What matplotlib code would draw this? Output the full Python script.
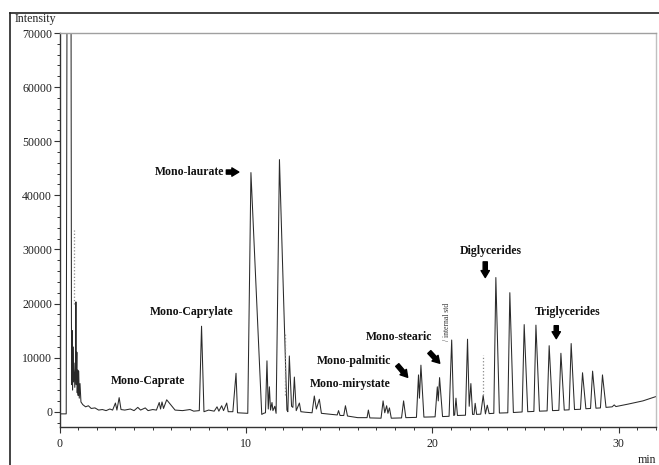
import matplotlib
matplotlib.use('Agg')
import matplotlib.pyplot as plt
from matplotlib.ticker import MultipleLocator
from matplotlib.lines import Line2D

# chromatogram trace: retention time (min) and detector response
time_min = [
    0, 0.36, 0.40, 0.62, 0.64, 0.66, 0.68, 0.70, 0.72, 0.75, 0.78, 0.82, 0.86,
    0.88, 0.90, 0.93, 0.95, 0.98, 1.00, 1.03, 1.06, 1.10, 1.15, 1.25, 1.40,
    1.55, 1.70, 1.90, 2.10, 2.30, 2.50, 2.70, 2.85, 3.00, 3.08, 3.20, 3.30,
    3.50, 3.80, 4.00, 4.20, 4.35, 4.60, 4.75, 5.00, 5.20, 5.35, 5.42, 5.50,
    5.58, 5.75, 6.20, 6.60, 7.00, 7.20, 7.50, 7.62, 7.75, 8.00, 8.30, 8.45,
    8.55, 8.70, 8.80, 8.97, 9.05, 9.30, 9.47, 9.55, 10.10, 10.27, 10.85,
    10.95, 11.05, 11.13, 11.20, 11.26, 11.32, 11.40, 11.45, 11.55, 11.62,
    11.80, 12.20, 12.25, 12.33, 12.45, 12.52, 12.60, 12.70, 12.87, 12.95,
    13.20, 13.55, 13.67, 13.78, 13.94, 14.05, 14.30, 14.60, 14.90, 14.97,
    15.05, 15.25, 15.34, 15.45, 16.00, 16.50, 16.57, 16.65, 17.25, 17.36,
    17.45, 17.55, 17.62, 17.70, 17.80, 18.35, 18.46, 18.58, 19.15, 19.26,
    19.31, 19.39, 19.55, 20.15, 20.27, 20.32, 20.39, 20.55, 20.90, 21.04,
    21.15, 21.20, 21.27, 21.35, 21.78, 21.89, 21.98, 22.07, 22.16, 22.24,
    22.30, 22.38, 22.60, 22.73, 22.85, 22.95, 23.05, 23.30, 23.41, 23.60,
    24.05, 24.16, 24.35, 24.82, 24.93, 25.12, 25.45, 25.56, 25.75, 26.16,
    26.27, 26.45, 26.79, 26.90, 27.08, 27.34, 27.45, 27.63, 27.95, 28.06,
    28.24, 28.49, 28.60, 28.78, 29.02, 29.13, 29.32, 29.65, 29.76, 29.85,
    30.50, 31.30, 32.00,
]
intensity = [
    -400, -400, 72000, 72000, 17000, 5000, 15000, 4000, 12000, 5500, 9000,
    4500, 8000, 20300, 5000, 11000, 3500, 7700, 3000, 7500, 2500, 5200, 1800,
    1300, 900, 1100, 600, 700, 300, 400, 200, 500, 300, 1600, 300, 2600, 400,
    300, 500, 200, 800, 300, 700, 200, 400, 300, 1700, 500, 1800, 600, 2200,
    300, 200, 400, 100, 200, 15800, 0, 300, 100, 900, 100, 1100, 200, 1600,
    0, 0, 7100, -200, -300, 44200, -500,
    -300, -200, 9400, 500, 4600, 300, 1700, 200, 1000, -300,
    46600, 300, 0, 10300, 1000, 800, 6400, 200, 1600, 0,
    -100, -200, 2900, 500, 2300, -300, -400, -500, -600, 200,
    -700, -700, 1100, -800, -1100, -1100, 300, -1150, -1200, 2000,
    -200, 1100, -300, 700, -1200, -1150, 2000, -1100, -1050, 6800,
    2500, 8600, -1000, -950, 4600, 2000, 6300, -900, -850, 13250,
    -700, -600, 2500, -700, -650, 13400, 1000, 5200, -500, -500,
    1550, -500, -450, 3000, -400, 1200, -350, -300, 24800, -250,
    -200, 22000, -150, -50, 16100, 0, 50, 16000, 100, 150,
    12200, 200, 250, 10800, 300, 350, 12600, 400, 450, 7200,
    550, 600, 7500, 650, 700, 6800, 800, 900, 1250, 950,
    1400, 2000, 2800,
]

# faint dotted detector noise
noise_time = [0.78, 12.10, 22.73]
noise_low = [20000, 3000, 3000]
noise_high = [33500, 14500, 10500]

# peak group labels
labels = ['Mono-Caprate', 'Mono-Caprylate', 'Mono-laurate', 'Mono-mirystate',
          'Mono-palmitic', 'Mono-stearic', 'Diglycerides', 'Triglycerides']
label_x = [4.75, 7.10, 7.0, 15.62, 15.81, 18.22, 23.13, 27.24]
label_y = [5670, 18420, 44300, 5120, 9420, 13750, 29750, 18480]

# block arrows: (x_tail, y_tail, x_head, y_head)
arrows = [
    (8.95, 44300, 9.62, 44300),
    (18.12, 8630, 18.68, 6350),
    (19.84, 11030, 20.40, 8950),
    (22.84, 27700, 22.84, 24800),
    (26.65, 15900, 26.65, 13500),
]

serif = 'Liberation Serif'

fig = plt.figure(figsize=(6.59, 4.65), dpi=100)
ax = fig.add_axes([0.0903, 0.0817, 0.9051, 0.8473])

ax.plot(time_min, intensity, color='#2a2a2a', lw=0.75)
ax.vlines(noise_time, noise_low, noise_high, colors='#8a8a8a',
          linestyles=':', lw=0.9)

for txt, x, y in zip(labels, label_x, label_y):
    ax.text(x, y, txt, ha='center', va='center', fontsize=8.5,
            fontweight='bold', family=serif, color='#111111')

ax.text(20.8, 16670, '/ internal std', rotation=90, ha='center',
        va='center', fontsize=5.5, family=serif, color='#333333')

for x0, y0, x1, y1 in arrows:
    ax.annotate('', xy=(x1, y1), xytext=(x0, y0),
                arrowprops=dict(arrowstyle='simple,head_length=0.5,head_width=0.6,tail_width=0.3',
                                color='black', shrinkA=0, shrinkB=0))

ax.set_xlim(0, 32)
ax.set_ylim(-2830, 70000)
ax.xaxis.set_major_locator(MultipleLocator(10))
ax.xaxis.set_minor_locator(MultipleLocator(1))
ax.yaxis.set_major_locator(MultipleLocator(10000))
ax.yaxis.set_minor_locator(MultipleLocator(2000))

ax.tick_params(axis='both', which='major', direction='out', length=4.3,
               width=0.8, color='#333333', labelsize=8.6)
ax.tick_params(axis='both', which='minor', direction='out', length=2.5,
               width=0.7, color='#333333')
ax.tick_params(axis='y', pad=1)
ax.tick_params(axis='x', pad=3.5)
for lab in ax.get_xticklabels() + ax.get_yticklabels():
    lab.set_family(serif)
    lab.set_color('#222222')

ax.spines['left'].set_color('#333333')
ax.spines['bottom'].set_color('#333333')
ax.spines['top'].set_color('#a0a0a0')
ax.spines['right'].set_color('#c0c0c0')
for s in ax.spines.values():
    s.set_linewidth(1.0)

fig.text(15 / 659, 1 - 19 / 465, 'Intensity', ha='left', va='center',
         fontsize=8.6, family=serif, color='#222222')
fig.text(647 / 659, 1 - 460 / 465, 'min', ha='center', va='center',
         fontsize=8.6, family=serif, color='#222222')

# outer frame lines along the top and left edge
fig.add_artist(Line2D([10 / 659, 1], [1 - 13 / 465, 1 - 13 / 465],
                      transform=fig.transFigure, color='#222222', lw=1.2))
fig.add_artist(Line2D([10 / 659, 10 / 659], [0, 1 - 13 / 465],
                      transform=fig.transFigure, color='#222222', lw=1.2))

fig.savefig('out.png', dpi=100, facecolor='white')
